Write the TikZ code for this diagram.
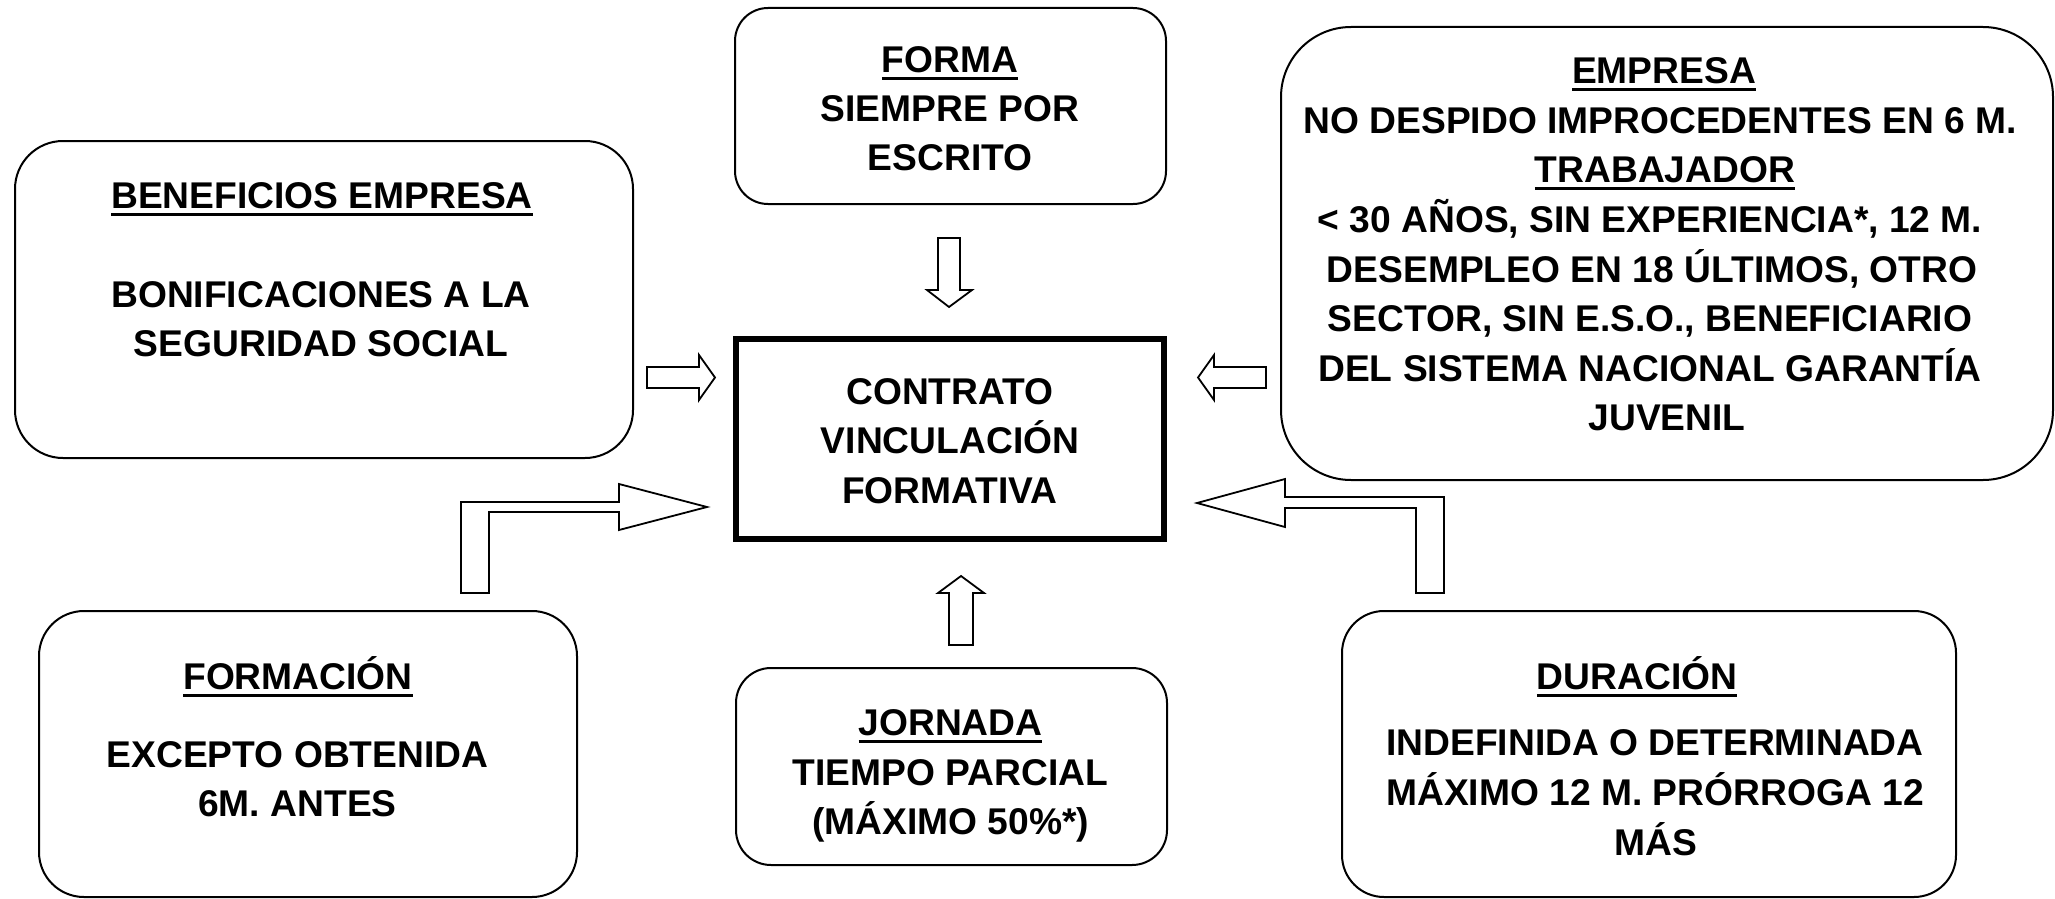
\documentclass[tikz,border=0pt]{standalone}
\usepackage{fontspec}
\newfontfamily\af{Liberation Sans}
\newcommand\hd[1]{\setbox0\hbox{#1}\rlap{\rule[-8.3pt]{\wd0}{3.6pt}}\box0}
\begin{document}
\begin{tikzpicture}[x=1pt,y=-1pt,
  rbox/.style={draw, line width=2pt, inner sep=0pt, rounded corners=#1},
  mainbox/.style={draw, line width=6pt, inner sep=0pt},
  txt/.style={font=\af\bfseries\fontsize{37.2pt}{49pt}\selectfont, anchor=base, inner sep=0pt},
  blockarrow/.style={draw, line width=1.8pt, fill=white, line join=miter}]
\useasboundingbox (0,0) rectangle (2055,899);

% boxes
\node[rbox=33pt, minimum width=431pt, minimum height=196pt] (forma) at (950.5,106) {};
\node[rbox=48pt, minimum width=618pt, minimum height=317pt] (benef) at (324,299.5) {};
\node[rbox=70pt, minimum width=772pt, minimum height=453pt] (empresa) at (1667,253.5) {};
\node[mainbox, minimum width=428pt, minimum height=200pt] (centro) at (950,439) {};
\node[rbox=45pt, minimum width=538pt, minimum height=286pt] (formacion) at (308,754) {};
\node[rbox=35pt, minimum width=431pt, minimum height=197pt] (jornada) at (951.5,766.5) {};
\node[rbox=42pt, minimum width=614pt, minimum height=286pt] (duracion) at (1649,754) {};

% texts: FORMA
\node[txt] (fo1) at (950,72) {\hd{FORMA}};
\node[txt] (fo2) at (950,121) {SIEMPRE POR};
\node[txt] (fo3) at (950,170) {ESCRITO};
% BENEFICIOS
\node[txt] (be1) at (322,208) {\hd{BENEFICIOS EMPRESA}};
\node[txt] (be2) at (321,307) {BONIFICACIONES A LA};
\node[txt] (be3) at (321,356) {SEGURIDAD SOCIAL};
% centre
\node[txt] (ce1) at (950,404) {CONTRATO};
\node[txt] (ce2) at (950,453) {VINCULACIÓN};
\node[txt] (ce3) at (950,503) {FORMATIVA};
% EMPRESA
\node[txt] (em1) at (1664,83) {\hd{EMPRESA}};
\node[txt] (em2) at (1660,133) {NO DESPIDO IMPROCEDENTES EN 6 M.};
\node[txt] (em3) at (1665,182) {\hd{TRABAJADOR}};
\node[txt] (em4) at (1650,232) {< 30 AÑOS, SIN EXPERIENCIA*, 12 M.};
\node[txt] (em5) at (1652,282) {DESEMPLEO EN 18 ÚLTIMOS, OTRO};
\node[txt] (em6) at (1650,331) {SECTOR, SIN E.S.O., BENEFICIARIO};
\node[txt] (em7) at (1650,381) {DEL SISTEMA NACIONAL GARANTÍA};
\node[txt] (em8) at (1667,430) {JUVENIL};
% FORMACION
\node[txt] (fm1) at (298,689) {\hd{FORMACIÓN}};
\node[txt] (fm2) at (297.5,767) {EXCEPTO OBTENIDA};
\node[txt] (fm3) at (297.5,816) {6M. ANTES};
% JORNADA
\node[txt] (jo1) at (950.5,735) {\hd{JORNADA}};
\node[txt] (jo2) at (950.5,785) {TIEMPO PARCIAL};
\node[txt] (jo3) at (950.5,834) {(MÁXIMO 50\%*)};
% DURACION
\node[txt] (du1) at (1637,689) {\hd{DURACIÓN}};
\node[txt] (du2) at (1655,755) {INDEFINIDA O DETERMINADA};
\node[txt] (du3) at (1655,805) {MÁXIMO 12 M. PRÓRROGA 12};
\node[txt] (du4) at (1656,855) {MÁS};

% block arrows
% beneficios -> centro
\draw[blockarrow] (647,367) -- (699,367) -- (699,355) -- (715,377.5) -- (699,400) -- (699,388) -- (647,388) -- cycle;
% empresa -> centro
\draw[blockarrow] (1266,367) -- (1214,367) -- (1214,355) -- (1198,377.5) -- (1214,400) -- (1214,388) -- (1266,388) -- cycle;
% forma -> centro
\draw[blockarrow] (938,238) -- (960,238) -- (960,290) -- (972,290) -- (949,307) -- (927,290) -- (938,290) -- cycle;
% jornada -> centro
\draw[blockarrow] (949,645) -- (973,645) -- (973,593) -- (984,593) -- (961,576) -- (938,593) -- (949,593) -- cycle;
% formacion -> centro (bent)
\draw[blockarrow] (461,593) -- (461,502) -- (619,502) -- (619,484) -- (707,507) -- (619,530) -- (619,512) -- (489,512) -- (489,593) -- cycle;
% duracion -> centro (bent)
\draw[blockarrow] (1444,593) -- (1444,497) -- (1285,497) -- (1285,479) -- (1197,503) -- (1285,527) -- (1285,508) -- (1416,508) -- (1416,593) -- cycle;
\end{tikzpicture}
\end{document}
